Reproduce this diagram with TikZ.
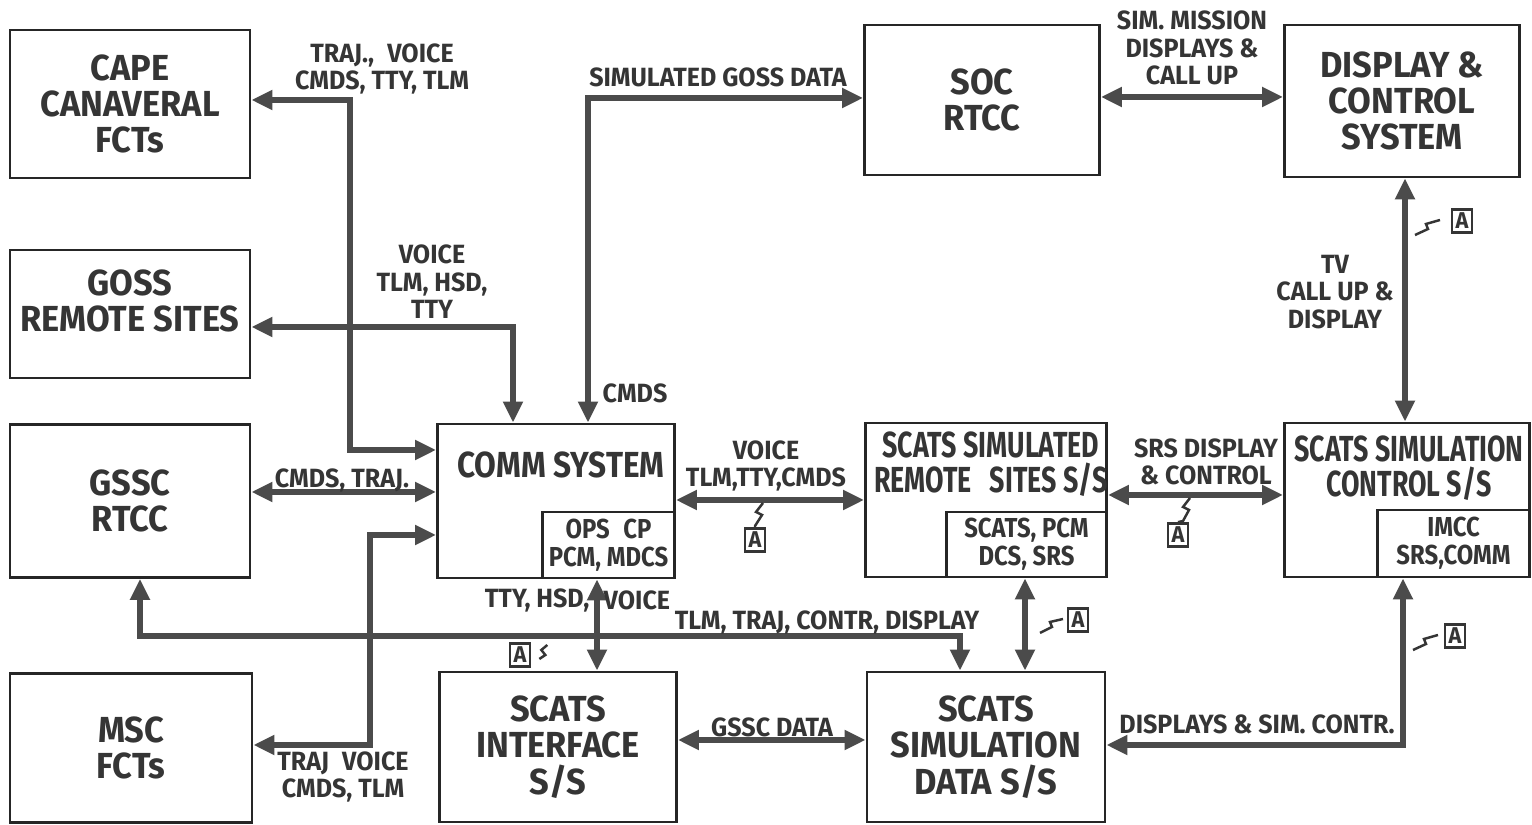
\documentclass[tikz,border=0pt]{standalone}
\usepackage{fontspec}
\setmainfont[FakeStretch=0.95]{Fira Sans}
\newfontfamily\midfont[FakeStretch=0.87]{Fira Sans}
\newfontfamily\narrowfont[FakeStretch=0.74]{Fira Sans}
\usetikzlibrary{positioning}
\usetikzlibrary{arrows.meta}
\definecolor{ink}{HTML}{353535}
\definecolor{wire}{HTML}{4B4B4B}

\begin{document}
\begin{tikzpicture}[x=0.01cm, y=-0.01cm,
    box style/.style={
        draw=black!85, line width=0.8pt,
        inner sep=0pt, align=center, text=ink,
        font=\fontsize{10.3}{10.3}\selectfont\bfseries
    },
    title style/.style={inner sep=0pt, align=center, text=ink,
        font=\fontsize{10.3}{10.1}\selectfont\bfseries\narrowfont},
    sub style/.style={
        draw=black!85, line width=0.8pt, anchor=south east,
        inner sep=0pt, align=center, text=ink,
        font=\fontsize{7.8}{7.9}\selectfont\bfseries\midfont
    },
    label style/.style={inner sep=0pt, align=center, text=ink,
        font=\fontsize{7.5}{7.8}\selectfont\bfseries},
    edge/.style={wire, line width=1.6pt, line join=miter,
        {Triangle[length=2.1mm, width=1.9mm]}-{Triangle[length=2.1mm, width=1.9mm]}},
    a style/.style={draw=ink, line width=0.8pt, inner sep=1pt,
        minimum size=0.19cm, text=ink,
        font=\fontsize{6.5}{6.5}\selectfont\bfseries},
    squiggle/.style={ink, line width=0.7pt}
]
	\useasboundingbox (0,0) rectangle (1532,825);
	
	% left column
	\node[box style, minimum width=2.40cm, minimum height=1.48cm] (cape) at (130,104) {CAPE\\CANAVERAL\\FCTs};
	\node[box style, minimum width=2.40cm, minimum height=1.28cm] (goss) at (130,314) {};
	\node[title style, font=\fontsize{10.3}{10.3}\selectfont\bfseries] (gossT) at (130,301) {GOSS\\REMOTE SITES};
	\node[box style, minimum width=2.40cm, minimum height=1.53cm] (gssc) at (130,501) {GSSC\\RTCC};
	\node[box style, minimum width=2.42cm, minimum height=1.49cm] (msc) at (131,748) {MSC\\FCTs};
	
	% middle
	\node[box style, minimum width=2.37cm, minimum height=1.54cm] (comm) at (556,501) {};
	\node[title style, font=\fontsize{10.3}{10.3}\selectfont\bfseries\midfont] (commT) at (561,465) {COMM SYSTEM};
	\node[sub style, minimum width=1.32cm, minimum height=0.66cm] (opscp) at (comm.south east) {OPS\enspace CP\\PCM, MDCS};
	\node[box style, minimum width=2.37cm, minimum height=1.50cm] (iface) at (558,747) {SCATS\\INTERFACE\\S/S};
	
	% right
	\node[box style, minimum width=2.35cm, minimum height=1.50cm] (soc) at (982,100) {SOC\\RTCC};
	\node[box style, minimum width=2.35cm, minimum height=1.52cm] (disp) at (1402,101) {DISPLAY \&\\CONTROL\\SYSTEM};
	\node[box style, minimum width=2.41cm, minimum height=1.54cm] (ssrs) at (986,500) {};
	\node[title style] (ssrsT) at (991,464) {SCATS SIMULATED\\REMOTE\enspace SITES S/S};
	\node[sub style, minimum width=1.60cm, minimum height=0.65cm] (scatspcm) at (ssrs.south east) {SCATS, PCM\\DCS, SRS};
	\node[box style, minimum width=2.45cm, minimum height=1.54cm] (sctl) at (1407,500) {};
	\node[title style] (sctlT) at (1409,468) {SCATS SIMULATION\\CONTROL S/S};
	\node[sub style, minimum width=1.52cm, minimum height=0.67cm] (imcc) at (sctl.south east) {IMCC\\SRS,COMM};
	\node[box style, minimum width=2.38cm, minimum height=1.50cm] (sdata) at (986,747) {SCATS\\SIMULATION\\DATA S/S};
	
	% connectors
	\draw[edge] (cape.east |- 0,100) -| (350,450) -- (comm.west |- 0,450);
	\draw[edge] (goss.east |- 0,327) -| (513,0 |- comm.north);
	\draw[edge] (588,0 |- comm.north) |- (soc.west |- 0,98);
	\draw[edge] (gssc.east |- 0,492) -- (comm.west |- 0,492);
	\draw[edge] (msc.east |- 0,745) -| (370,535) -- (comm.west |- 0,535);
	\draw[edge] (comm.east |- 0,500) -- (ssrs.west |- 0,500);
	\draw[edge] (597,0 |- opscp.south) -- (597,0 |- iface.north);
	\draw[edge] (140,0 |- gssc.south) |- (960,636) -- (960,0 |- sdata.north);
	\draw[edge] (1025,0 |- scatspcm.south) -- (1025,0 |- sdata.north);
	\draw[edge] (iface.east |- 0,740) -- (sdata.west |- 0,740);
	\draw[edge] (sdata.east |- 0,745) -| (1403,0 |- sctl.south);
	\draw[edge] (ssrs.east |- 0,495) -- (sctl.west |- 0,495);
	\draw[edge] (soc.east |- 0,97) -- (disp.west |- 0,97);
	\draw[edge] (1405,0 |- disp.south) -- (1405,0 |- sctl.north);
	
	% connector labels
	\node[label style] (l1) at (382,69) {TRAJ.,\enspace VOICE\\CMDS, TTY, TLM};
	\node[label style] (l2) at (432,282) {VOICE\\TLM, HSD,\\TTY};
	\node[label style] (l3) at (718,77) {SIMULATED GOSS DATA};
	\node[label style] (l4) at (635,393) {CMDS};
	\node[label style] (l5) at (342,480) {CMDS, TRAJ.};
	\node[label style] (l6) at (343,777) {TRAJ\enspace VOICE\\CMDS, TLM};
	\node[label style] (l7) at (766,466) {VOICE\\TLM,TTY,CMDS};
	\node[label style, anchor=east] (l8) at (590,600) {TTY, HSD,};
	\node[label style, anchor=west] (l9) at (603,600) {VOICE};
	\node[label style] (l10) at (827,622) {TLM, TRAJ, CONTR, DISPLAY};
	\node[label style] (l11) at (772,727) {GSSC DATA};
	\node[label style] (l12) at (1257,724) {DISPLAYS \& SIM. CONTR.};
	\node[label style] (l13) at (1206,462) {SRS DISPLAY\\\& CONTROL};
	\node[label style] (l14) at (1192,48) {SIM. MISSION\\DISPLAYS \&\\CALL UP};
	\node[label style] (l15) at (1335,292) {TV\\CALL UP \&\\DISPLAY};
	
	% A marks
	\node[a style] (a1) at (755,540) {A};
	\node[a style] (a2) at (520,655) {A};
	\node[a style] (a3) at (1178,535) {A};
	\node[a style] (a4) at (1078,620) {A};
	\node[a style] (a5) at (1462,221) {A};
	\node[a style] (a6) at (1455,636) {A};
	\draw[squiggle] (763,503) -- ++(-7,9) -- ++(6,3) -- ++(-7,11) -- (a1.north);
	\draw[squiggle] (a2.east) ++(8,4) -- ++(6,-4) -- ++(-4,-5) -- ++(6,-5);
	\draw[squiggle] (1190,498) -- ++(-7,9) -- ++(6,3) -- ++(-6,11) -- (a3.north);
	\draw[squiggle] (1040,633) -- ++(12,-6) -- ++(-2,-5) -- ++(13,-3);
	\draw[squiggle] (1415,235) -- ++(13,-6) -- ++(-2,-5) -- ++(14,-4);
	\draw[squiggle] (1413,650) -- ++(13,-6) -- ++(-2,-5) -- ++(14,-4);
	
\end{tikzpicture}
\end{document}
